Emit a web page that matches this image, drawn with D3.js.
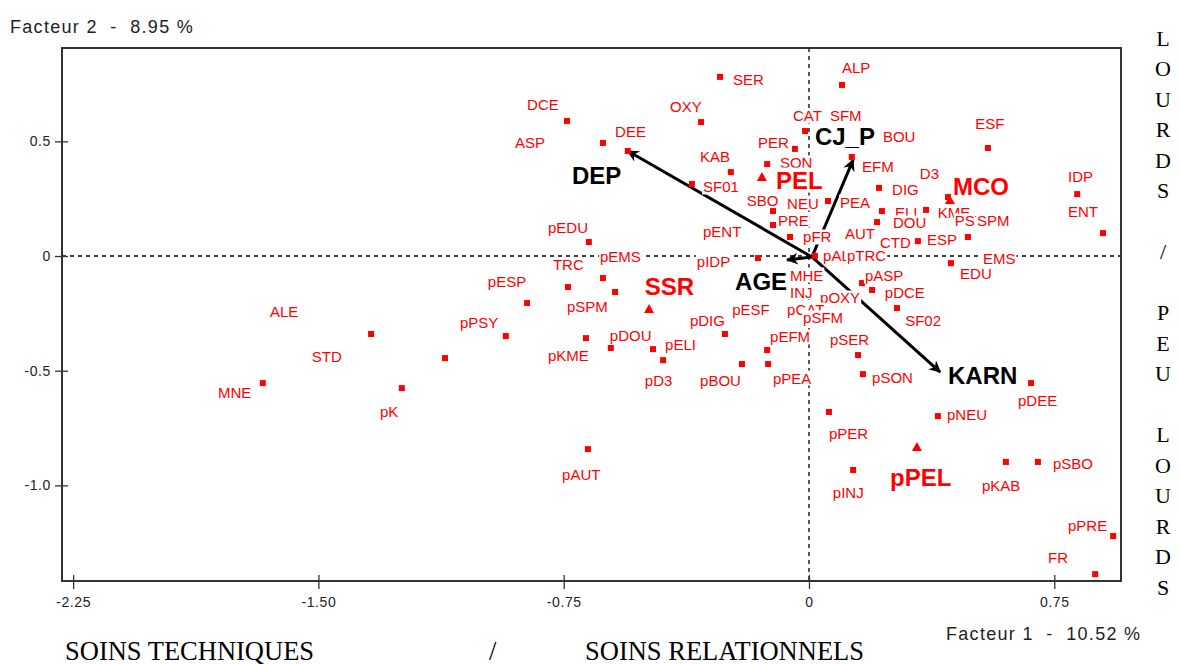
<!DOCTYPE html>
<html lang="fr">
<head>
<meta charset="utf-8">
<title>Facteurs</title>
<script src="https://d3js.org/d3.v7.min.js"></script>
<style>
  body { margin: 0; background: #fff; }
  text { font-family: "Liberation Sans", Arial, sans-serif; }
</style>
</head>
<body>
<svg id="chart" width="1180" height="664"></svg>
<script>
// --- data (factor coordinates) ---
const ptNames = ["SER","DCE","ASP","DEE","OXY","KAB","SF01","PER","SON","SBO","NEU","PEA","PRE","ENT","IDP",
  "pENT","pFR","pIDP","pALP","pTRC","ALP","CAT","SFM","BOU","EFM","DIG","D3","ELI","KME","DOU","PSY","SPM",
  "ESP","AUT","CTD","EDU","EMS","ESF","MHE","INJ","pOXY","pCAT","pSFM","pASP","pDCE","SF02","pSER","pSON",
  "pDEE","pNEU","pPER","pINJ","pKAB","pSBO","pPRE","FR","pAUT","pK","MNE","ALE","STD","pPSY","pESP","pEDU",
  "TRC","pEMS","pSPM","pKME","pDOU","pELI","pD3","pDIG","pESF","pEFM","pPEA","pBOU"];
const ptX = [-0.272,-0.740,-0.554,-0.630,-0.330,-0.239,-0.358,-0.043,-0.128,-0.110,-0.028,0.058,-0.110,0.899,0.820,
  -0.272,-0.058,-0.156,0.018,0.156,0.101,-0.012,0.110,0.187,0.131,0.214,0.425,0.223,0.358,0.208,0.477,0.554,
  0.486,0.141,0.333,0.434,0.569,0.547,-0.028,-0.028,0.080,-0.043,0.018,0.162,0.193,0.269,0.150,0.165,
  0.679,0.394,0.061,0.135,0.602,0.700,0.930,0.875,-0.676,-1.245,-1.670,-1.339,-1.113,-0.927,-0.862,-0.673,
  -0.737,-0.630,-0.593,-0.682,-0.606,-0.477,-0.446,-0.257,-0.180,-0.128,-0.125,-0.205];
const ptY = [0.781,0.589,0.458,0.493,0.584,0.366,0.314,0.467,0.401,0.196,0.222,0.240,0.135,0.100,0.270,
  0.105,0.083,-0.009,0.000,0.000,0.746,0.545,0.515,0.519,0.432,0.297,0.257,0.196,0.201,0.148,0.144,0.148,
  0.083,0.092,0.065,-0.031,-0.009,0.471,-0.087,-0.161,-0.183,-0.244,-0.279,-0.118,-0.148,-0.227,-0.432,-0.515,
  -0.554,-0.698,-0.680,-0.933,-0.898,-0.898,-1.221,-1.387,-0.842,-0.576,-0.554,-0.340,-0.445,-0.349,-0.205,0.061,
  -0.135,-0.096,-0.157,-0.358,-0.401,-0.406,-0.454,-0.340,-0.240,-0.410,-0.471,-0.471];
// where each label sits (left edge / middle, same units)
const lblX = [-0.232,-0.862,-0.899,-0.593,-0.425,-0.333,-0.324,-0.156,-0.089,-0.190,-0.067,0.095,-0.095,0.792,0.792,
  -0.324,-0.018,-0.343,0.043,0.116,0.101,-0.049,0.064,0.226,0.162,0.254,0.339,0.263,0.394,0.257,0.446,0.514,
  0.361,0.110,0.217,0.462,0.532,0.508,-0.058,-0.058,0.034,-0.067,-0.018,0.171,0.232,0.294,0.064,0.193,
  0.639,0.422,0.061,0.073,0.529,0.746,0.792,0.731,-0.755,-1.312,-1.807,-1.648,-1.520,-1.067,-0.982,-0.798,
  -0.783,-0.639,-0.740,-0.798,-0.609,-0.440,-0.502,-0.364,-0.235,-0.119,-0.110,-0.333];
const lblY = [0.768,0.659,0.497,0.545,0.650,0.436,0.301,0.497,0.406,0.244,0.231,0.235,0.157,0.192,0.345,
  0.109,0.083,-0.026,0.004,0.004,0.824,0.611,0.611,0.523,0.392,0.288,0.358,0.188,0.188,0.144,0.153,0.153,
  0.074,0.100,0.061,-0.078,-0.013,0.576,-0.083,-0.157,-0.183,-0.235,-0.270,-0.087,-0.161,-0.279,-0.366,-0.528,
  -0.628,-0.693,-0.772,-1.029,-0.999,-0.903,-1.173,-1.313,-0.951,-0.676,-0.593,-0.244,-0.440,-0.288,-0.113,0.126,
  -0.039,-0.004,-0.222,-0.432,-0.345,-0.384,-0.541,-0.279,-0.235,-0.353,-0.532,-0.541];

// supplementary categories (triangles)
const supNames = ["PEL","MCO","SSR","pPEL"];
const supX = [-0.144,0.431,-0.489,0.330];
const supY = [0.345,0.244,-0.231,-0.833];
const supLblX = [-0.101,0.440,-0.502,0.248];
const supLblY = [0.331,0.301,-0.135,-0.964];

// variables (arrows)
const arrowOrigin = [0.009,-0.004];
const varNames = ["DEP","CJ_P","KARN","AGE"];
const varX = [-0.554,0.135,0.401,-0.067];
const varY = [0.458,0.419,-0.506,-0.017];
const varLblX = [-0.725,0.018,0.425,-0.226];
const varLblY = [0.353,0.519,-0.519,-0.113];

const xTicks = [-2.25,-1.50,-0.75,0,0.75];
const xTickLabels = ["-2.25","-1.50","-0.75","0","0.75"];
const yTicks = [0.5,0,-0.5,-1.0];
const yTickLabels = ["0.5","0","-0.5","-1.0"];

const xTitle = "Facteur 1  -  10.52 %";
const yTitle = "Facteur 2  -  8.95 %";
const bottomWords = ["SOINS TECHNIQUES","/","SOINS RELATIONNELS"];
const sideLetters = ["L","O","U","R","D","S","","/","","P","E","U","","L","O","U","R","D","S"];

// --- drawing ---
const svg = d3.select("#chart");
const pLeft = 62, pRight = 1121, pTop = 48, pBottom = 581;
const x = d3.scaleLinear().domain([-2.284, 0.954]).range([pLeft, pRight]);
const y = d3.scaleLinear().domain([0.907, -1.417]).range([pTop, pBottom]);

svg.append("rect").attr("width",1180).attr("height",664).attr("fill","#fff");

// zero lines
svg.append("line").attr("x1",x(0)).attr("x2",x(0)).attr("y1",pTop).attr("y2",pBottom)
  .attr("stroke","#000").attr("stroke-width",1.3).attr("stroke-dasharray","4,4");
svg.append("line").attr("x1",pLeft).attr("x2",pRight).attr("y1",y(0)).attr("y2",y(0))
  .attr("stroke","#000").attr("stroke-width",1.3).attr("stroke-dasharray","4,4");

// arrows
const defs = svg.append("defs");
defs.append("marker").attr("id","head").attr("viewBox","0 0 10 10")
  .attr("refX",9).attr("refY",5).attr("markerWidth",5).attr("markerHeight",4)
  .attr("markerUnits","strokeWidth").attr("orient","auto")
  .append("path").attr("d","M0,0 L10,5 L0,10 L3,5 z").attr("fill","#000");

svg.selectAll(".arrow").data(varNames).enter().append("line")
  .attr("class","arrow")
  .attr("x1",x(arrowOrigin[0])).attr("y1",y(arrowOrigin[1]))
  .attr("x2",(d,i)=>x(varX[i])).attr("y2",(d,i)=>y(varY[i]))
  .attr("stroke","#000").attr("stroke-width",3).attr("marker-end","url(#head)");

// points
svg.selectAll(".pt").data(ptNames).enter().append("rect")
  .attr("class","pt")
  .attr("x",(d,i)=>x(ptX[i])-3).attr("y",(d,i)=>y(ptY[i])-3)
  .attr("width",6).attr("height",6).attr("fill","#ff0000");

svg.selectAll(".tri").data(supNames).enter().append("path")
  .attr("class","tri")
  .attr("transform",(d,i)=>"translate("+x(supX[i])+","+y(supY[i])+")")
  .attr("d","M0,-5 L5,4 L-5,4 Z").attr("fill","#ff0000");

// labels with opaque background, the way the original software draws them
function label(g, txt, lx, ly, size, weight, color) {
  const t = g.append("text").attr("x",lx).attr("y",ly)
    .attr("dominant-baseline","central")
    .style("font-size",size+"px").style("font-weight",weight).attr("fill",color).text(txt);
  const b = t.node().getBBox();
  g.insert("rect","text").attr("x",b.x-1).attr("y",b.y+1)
    .attr("width",b.width+2).attr("height",b.height-2).attr("fill","#fff");
}
const lg = svg.append("g");
ptNames.forEach((n,i)=>{
  label(lg.append("g"), n, x(lblX[i]), y(lblY[i]), 15, "normal", "#ff0000");
});
supNames.forEach((n,i)=>{
  label(lg.append("g"), n, x(supLblX[i]), y(supLblY[i]), 24, "bold", "#ff0000");
});
varNames.forEach((n,i)=>{
  label(lg.append("g"), n, x(varLblX[i]), y(varLblY[i]), 24, "bold", "#000");
});

// frame
svg.append("rect").attr("x",pLeft).attr("y",pTop).attr("width",pRight-pLeft).attr("height",pBottom-pTop)
  .attr("fill","none").attr("stroke","#333").attr("stroke-width",2);

// axes
const xAxis = svg.append("g").attr("transform","translate(0,"+pBottom+")")
  .call(d3.axisBottom(x).tickValues(xTicks).tickSize(8).tickFormat((d,i)=>xTickLabels[i]));
xAxis.select(".domain").remove();
xAxis.selectAll(".tick line").attr("y1",-6).attr("y2",8).attr("stroke","#333").attr("stroke-width",1.3);
xAxis.selectAll(".tick text").attr("y",16)
  .style("font-family","'Liberation Sans',Arial,sans-serif").style("font-size","14px")
  .style("letter-spacing","0.6px").attr("fill","#222");

const yAxis = svg.append("g").attr("transform","translate("+pLeft+",0)")
  .call(d3.axisLeft(y).tickValues(yTicks).tickSize(8).tickFormat((d,i)=>yTickLabels[i]));
yAxis.select(".domain").remove();
yAxis.selectAll(".tick line").attr("x1",-7).attr("x2",6).attr("stroke","#333").attr("stroke-width",1.3);
yAxis.selectAll(".tick text").attr("x",-11)
  .style("font-family","'Liberation Sans',Arial,sans-serif").style("font-size","14px")
  .style("letter-spacing","0.6px").attr("fill","#222");

// titles
svg.append("text").attr("x",10).attr("y",33).style("font-size","18px").style("letter-spacing","1.3px")
  .attr("fill","#222").attr("xml:space","preserve").text(yTitle);
svg.append("text").attr("x",946).attr("y",640).style("font-size","18px").style("letter-spacing","1.3px")
  .attr("fill","#222").attr("xml:space","preserve").text(xTitle);

const serif = "'Liberation Serif','Times New Roman',serif";
const bx = [65, 489, 585];
svg.selectAll(".bw").data(bottomWords).enter().append("text")
  .attr("class","bw").attr("x",(d,i)=>bx[i]).attr("y",660)
  .style("font-family",serif).style("font-size","26.5px").attr("fill","#000").text(d=>d);

svg.selectAll(".side").data(sideLetters).enter().append("text")
  .attr("class","side").attr("x",1163).attr("y",(d,i)=>38+i*30.5)
  .attr("text-anchor","middle").attr("dominant-baseline","central")
  .style("font-family",serif).style("font-size","22px").attr("fill","#000").text(d=>d);
</script>
</body>
</html>
